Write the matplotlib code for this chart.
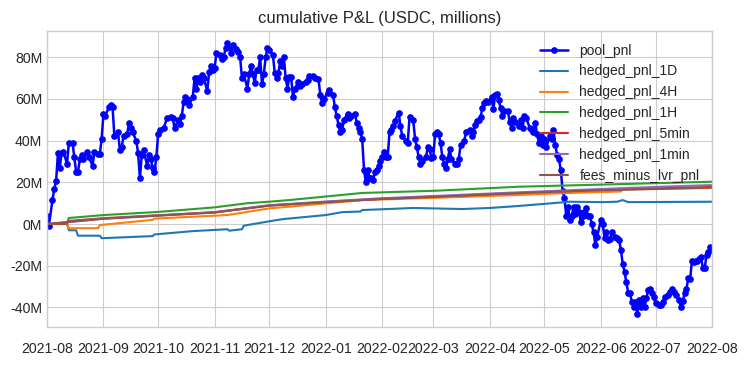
import matplotlib
matplotlib.use("Agg")
import matplotlib.pyplot as plt
import matplotlib.ticker as mticker
import matplotlib.dates as mdates
import pandas as pd

# day offsets from 2021-08-01, values in USDC millions
pool_days = [0, 1, 3, 4, 5, 6, 7, 8, 9, 11, 12, 14, 15, 16, 17, 18, 19, 20, 22, 23, 25, 26, 28, 29, 30,
             31, 32, 34, 35, 36, 37, 39, 40, 41, 42, 44, 45, 46, 47, 49, 50, 51, 52, 53, 55, 56, 57, 58, 59,
             60, 61, 62, 64, 66, 68, 69, 70, 72, 73, 74, 75, 76, 77, 78, 80, 81, 82, 83, 84, 85, 86, 88, 89,
             90, 91, 92, 93, 95, 96, 97, 98, 99, 100, 101, 102, 104, 105, 106, 107, 108, 110, 111, 112, 113,
             114, 115, 116, 117, 118, 119, 120, 121, 122, 124, 125, 126, 127, 128, 129, 130, 131, 132, 133,
             134, 135, 136, 138, 139, 140, 142, 143, 144, 146, 147, 149, 150, 151, 152, 154, 155, 157, 158,
             159, 160, 161, 162, 163, 165, 166, 167, 169, 170, 171, 172, 173, 174, 175, 176, 177, 178, 179,
             180, 181, 182, 183, 184, 185, 186, 187, 188, 189, 190, 191, 193, 194, 195, 197, 198, 199, 201,
             202, 203, 204, 205, 206, 208, 209, 210, 211, 212, 213, 214, 215, 216, 217, 218, 219, 220, 221,
             222, 224, 225, 226, 227, 229, 230, 232, 233, 234, 235, 236, 237, 238, 239, 240, 241, 242, 244,
             245, 246, 247, 248, 249, 250, 251, 253, 254, 255, 256, 257, 259, 260, 261, 262, 263, 265, 266,
             267, 268, 269, 270, 271, 272, 273, 274, 276, 277, 278, 279, 280, 281, 282, 283, 284, 285, 286,
             287, 288, 289, 290, 291, 292, 293, 294, 295, 296, 297, 298, 299, 300, 301, 302, 304, 305, 306,
             307, 308, 309, 310, 312, 313, 314, 315, 316, 317, 318, 319, 320, 321, 322, 323, 324, 325, 326,
             327, 328, 329, 330, 331, 332, 333, 334, 336, 337, 338, 339, 341, 342, 343, 344, 345, 347, 348,
             349, 350, 351, 352, 353, 354, 355, 356, 357, 358, 359, 360, 361, 362, 363, 364, 365]
pool_pnl = [4, -1, 11.5, 17, 20.6, 34, 27, 34, 34.5, 29, 39, 39, 32, 25, 25, 31, 33, 31, 34.5, 32, 28, 34.5, 33.5, 33.5, 41,
            53, 52, 56, 57, 56, 42, 44, 35.5, 37, 42, 43, 48.5, 46, 44, 40, 34, 22, 33, 35.5, 28, 33, 31, 27, 25,
            32, 43, 45, 46, 51, 51.5, 51, 46, 50, 48, 52, 58.5, 61, 60, 57, 61, 70, 65, 70, 68, 71.5, 70, 64, 73,
            76, 74, 75, 82, 81, 79, 80, 84.5, 87, 85, 82, 86, 84, 82.5, 80, 70, 72, 65, 72, 76, 72,
            67.5, 74, 74, 80, 67, 72, 80, 84.5, 83.5, 81, 72.5, 70, 72.5, 78, 76, 80, 70, 65, 70.5,
            70.5, 61, 65, 68, 66, 67, 68, 69, 71, 71, 70, 69.5, 62, 58, 60, 63, 64.5, 62, 56,
            52, 47.5, 44, 45, 50, 53, 51, 52, 53, 48.5, 46, 44, 41, 26, 20, 26, 22, 22, 21,
            25, 26, 28, 30, 32, 34.5, 32, 32, 44, 45, 47, 49.5, 53.5, 47, 42, 40, 39, 51.5, 50,
            41, 37, 32, 29, 30, 32, 37, 36, 31.5, 32, 43, 44, 43, 39, 32, 29, 27, 31, 36,
            31, 29, 29, 31, 38, 40, 44, 45, 42, 44, 47.5, 49.5, 50, 51.5, 55.5, 58, 59, 58.5, 61,
            55, 62, 62.5, 59.5, 55.5, 52, 54, 54, 49, 46, 51, 49, 47, 50, 46, 52, 51, 46, 45,
            44, 48.5, 43, 39, 42, 38, 41, 37, 42, 41, 45, 38, 33, 31, 26, 16, 12.5, 4, 8,
            2, 4, 8, 5, 8, 6, 1, 4, 6, 7.5, 4, 4, 0, -4, -10, -6, 2, 0, -6.5,
            -4, -7.5, -7, -4, -6, -6.5, -7.5, -12.5, -19, -23, -28, -33, -33, -37.5, -40, -37.5, -43, -36.5, -40,
            -35.5, -40, -35.5, -31.5, -31, -33, -35, -38, -39, -39, -37.5, -35, -34, -32.5, -31, -32.5, -34, -36.5, -40,
            -37, -33, -31, -26, -26.5, -17.5, -18, -17.5, -17.5, -17, -16, -21, -21, -15, -13.5, -11, -12.5]

h1d_days = [0, 11, 12, 16, 17, 29, 30, 58, 59, 80, 99, 100, 107, 108, 124, 130, 153, 162, 172, 173, 187, 201,
            228, 243, 258, 272, 287, 305, 313, 316, 319, 365]
h1d_pnl = [0, 0, -3, -3, -5.6, -5.6, -6.8, -5.8, -5, -3.4, -2.5, -3.2, -2.5, -0.8, 1.6, 2.4, 4.3, 5.7, 6.0, 6.7,
           7.2, 7.7, 7.2, 7.7, 8.6, 9.6, 10.7, 10.5, 10.7, 11.5, 10.5, 10.7]

h4h_days = [0, 11, 12, 28, 29, 58, 59, 99, 122, 133, 173, 214, 258, 290, 315, 316, 365]
h4h_pnl = [0, 0.3, -2, -2, -0.5, 2, 2.6, 4.3, 7.5, 8.3, 11.5, 12.6, 13.9, 15, 15.6, 16.6, 17.3]

h1h_days = [0, 11, 12, 31, 61, 92, 110, 122, 133, 173, 214, 259, 317, 365]
h1h_pnl = [0, 0.3, 2.9, 4.3, 5.8, 8.0, 10, 10.7, 11.5, 14.9, 16, 17.9, 19.2, 20.3]

h5m_days = [0, 11, 12, 31, 61, 92, 122, 153, 184, 214, 245, 273, 304, 334, 365]
h5m_pnl = [0, 0.3, 1.5, 2.8, 4.2, 5.7, 8.9, 10.6, 12.1, 13.2, 14.4, 15.4, 16.4, 17.1, 17.8]

h1m_days = [0, 31, 61, 92, 122, 153, 184, 214, 245, 273, 304, 334, 365]
h1m_pnl = [0, 2.6, 4.1, 5.6, 9.0, 10.8, 12.4, 13.5, 14.7, 15.7, 16.8, 17.8, 18.7]

fees_days = [0, 31, 61, 92, 122, 153, 184, 214, 245, 273, 304, 334, 365]
fees_pnl = [0, 2.5, 4.0, 5.5, 8.8, 10.5, 12.0, 13.1, 14.3, 15.3, 16.2, 16.8, 17.5]

start = pd.Timestamp("2021-08-01")


def to_dates(days):
    return start + pd.to_timedelta(days, unit="D")


plt.style.use("seaborn-v0_8-whitegrid")
plt.rcParams["font.family"] = ["Liberation Sans", "DejaVu Sans"]

fig, ax = plt.subplots(figsize=(7.48, 3.65), dpi=100)
fig.subplots_adjust(left=47 / 748, right=712 / 748, top=1 - 31 / 365, bottom=1 - 327 / 365)

ax.plot(to_dates(pool_days), pool_pnl, color="blue", marker="o", markersize=3.8, lw=1.8, label="pool_pnl")
ax.plot(to_dates(h1d_days), h1d_pnl, color="tab:blue", lw=1.5, label="hedged_pnl_1D")
ax.plot(to_dates(h4h_days), h4h_pnl, color="tab:orange", lw=1.5, label="hedged_pnl_4H")
ax.plot(to_dates(h1h_days), h1h_pnl, color="tab:green", lw=1.5, label="hedged_pnl_1H")
ax.plot(to_dates(h5m_days), h5m_pnl, color="tab:red", lw=1.5, label="hedged_pnl_5min")
ax.plot(to_dates(h1m_days), h1m_pnl, color="tab:purple", lw=1.5, label="hedged_pnl_1min")
ax.plot(to_dates(fees_days), fees_pnl, color="tab:brown", lw=1.5, label="fees_minus_lvr_pnl")

ax.set_xlim(pd.Timestamp("2021-08-01"), pd.Timestamp("2022-08-01"))
ax.set_ylim(-49.4, 92.6)
ax.xaxis.set_major_locator(mdates.MonthLocator())
ax.xaxis.set_major_formatter(mdates.DateFormatter("%Y-%m"))
ax.tick_params(axis="x", pad=11, labelsize=10.2)
ax.tick_params(axis="y", labelsize=10.2)
ax.yaxis.set_major_formatter(mticker.FuncFormatter(lambda v, p: f"{v:.0f}M"))
ax.set_title("cumulative P&L (USDC, millions)", fontsize=12)
ax.legend(loc="upper right", fontsize=10)

fig.savefig("out.png", dpi=100)
